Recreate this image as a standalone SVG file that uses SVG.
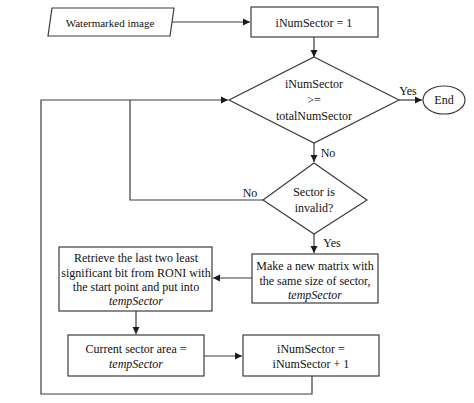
<svg xmlns="http://www.w3.org/2000/svg" width="474" height="403" viewBox="0 0 474 403" font-family="'Liberation Serif', 'DejaVu Serif', serif">
<style>
.s{fill:#fff;stroke:#3c3c3c;stroke-width:1.2}
.c{fill:none;stroke:#3c3c3c;stroke-width:1.2}
text{font-family:'Liberation Serif','DejaVu Serif',serif;font-size:12px;fill:#111;text-anchor:middle}
.i{font-style:italic}
</style>
<defs>
<marker id="a" markerWidth="8" markerHeight="8" refX="7" refY="4" orient="auto" markerUnits="userSpaceOnUse">
<path d="M0,0.5 L7,4 L0,7.5 z" fill="#1a1a1a"/>
</marker>
</defs>
<rect width="474" height="403" fill="#fff"/>
<g id="connectors">
<line class="c" x1="171" y1="22" x2="250" y2="22" marker-end="url(#a)"/>
<line class="c" x1="314" y1="37" x2="314" y2="57" marker-end="url(#a)"/>
<line class="c" x1="399" y1="100" x2="422" y2="100" marker-end="url(#a)"/>
<line class="c" x1="314" y1="143" x2="314" y2="162" marker-end="url(#a)"/>
<polyline class="c" points="263,200 130,200 130,100"/>
<polyline class="c" points="312,376 312,394 41,394 41,100 228,100" marker-end="url(#a)"/>
<line class="c" x1="314" y1="234" x2="314" y2="253" marker-end="url(#a)"/>
<line class="c" x1="252" y1="278" x2="213" y2="278" marker-end="url(#a)"/>
<line class="c" x1="136" y1="311" x2="136" y2="334" marker-end="url(#a)"/>
<line class="c" x1="204" y1="356" x2="242" y2="356" marker-end="url(#a)"/>
<text x="408" y="95">Yes</text>
<text x="328" y="157">No</text>
<text x="250" y="197">No</text>
<text x="332" y="247">Yes</text>
</g>
<g id="input">
<polygon class="s" points="52,8 174,8 170,36 48,36"/>
<text x="110" y="27" style="font-size:11px">Watermarked image</text>
</g>
<g id="init">
<rect class="s" x="251" y="7" width="127" height="30"/>
<text x="314" y="27">iNumSector = 1</text>
</g>
<g id="cond1">
<polygon class="s" points="314,57 399,100 314,143 229,100"/>
<text x="314" y="88">iNumSector</text>
<text x="314" y="104">&gt;=</text>
<text x="314" y="120">totalNumSector</text>
</g>
<g id="end">
<ellipse class="s" cx="444" cy="100" rx="21" ry="14"/>
<text x="444" y="104">End</text>
</g>
<g id="cond2">
<polygon class="s" points="314,163 367,200 314,234 263,200"/>
<text x="314" y="196">Sector is</text>
<text x="314" y="212">invalid?</text>
</g>
<g id="newmatrix">
<rect class="s" x="252" y="254" width="126" height="49"/>
<text x="315" y="270">Make a new matrix with</text>
<text x="315" y="285">the same size of sector,</text>
<text x="315" y="299" class="i">tempSector</text>
</g>
<g id="retrieve">
<rect class="s" x="59" y="247" width="153" height="64"/>
<text x="136" y="262">Retrieve the last two least</text>
<text x="136" y="277">significant bit from RONI with</text>
<text x="136" y="291">the start point and put into</text>
<text x="136" y="305" class="i">tempSector</text>
</g>
<g id="current">
<rect class="s" x="68" y="335" width="136" height="41"/>
<text x="136" y="353">Current sector area =</text>
<text x="136" y="368" class="i">tempSector</text>
</g>
<g id="increment">
<rect class="s" x="243" y="335" width="136" height="41"/>
<text x="311" y="353">iNumSector =</text>
<text x="311" y="368">iNumSector + 1</text>
</g>
</svg>
